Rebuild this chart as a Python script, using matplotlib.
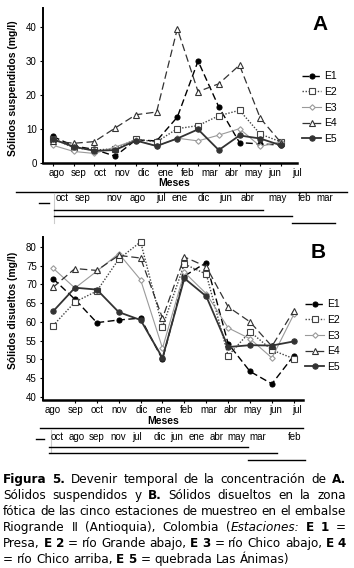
import re
import matplotlib
matplotlib.use("Agg")
import matplotlib.pyplot as plt

plt.rcParams["font.family"] = "Liberation Sans"

meses = ["ago", "sep", "oct", "nov", "dic", "ene", "feb", "mar", "abr", "may", "jun", "jul"]
estaciones = ["E1", "E2", "E3", "E4", "E5"]

# A. solidos suspendidos (mg/l)
ss_e1 = [7.8, 5.0, 4.0, 2.0, 6.8, 6.5, 13.5, 30.0, 16.5, 6.0, 5.6, 5.3]
ss_e2 = [7.2, 4.5, 3.8, 4.2, 7.0, 6.2, 10.1, 11.0, 13.9, 15.5, 8.5, 6.2]
ss_e3 = [5.2, 3.4, 2.8, 4.7, 6.8, 4.9, 7.3, 6.5, 8.2, 10.1, 4.9, 6.2]
ss_e4 = [6.5, 5.8, 6.3, 10.3, 14.2, 15.0, 39.5, 21.0, 23.3, 28.8, 13.2, 6.0]
ss_e5 = [7.0, 4.8, 3.6, 3.8, 6.6, 5.0, 7.2, 9.9, 3.8, 8.1, 7.2, 5.2]

# B. solidos disueltos (mg/l)
sd_e1 = [71.5, 66.0, 59.8, 60.5, 61.0, 50.0, 72.2, 75.8, 54.2, 46.8, 43.5, 51.0]
sd_e2 = [59.0, 65.3, 68.2, 76.7, 81.3, 58.7, 75.4, 72.7, 51.0, 57.4, 52.5, 50.2]
sd_e3 = [74.3, 69.0, 73.5, 78.2, 71.2, 53.0, 73.2, 67.5, 58.4, 55.5, 50.4, 62.0]
sd_e4 = [69.2, 74.2, 73.7, 77.7, 77.0, 61.0, 77.3, 74.7, 64.0, 60.0, 53.5, 63.0]
sd_e5 = [62.8, 69.1, 68.6, 62.6, 60.5, 50.4, 71.6, 66.8, 53.3, 53.8, 53.7, 54.8]

# agrupaciones (orden de meses y grupos homogeneos)
orden_a = ["oct", "sep", "nov", "ago", "jul", "ene", "dic", "jun", "abr", "may", "feb", "mar"]
grupos_a = [(0, 8), (0, 9), (10, 11)]
orden_b = ["oct", "ago", "sep", "nov", "jul", "dic", "jun", "ene", "abr", "may", "mar", "feb"]
grupos_b = [(0, 9), (0, 10), (10, 11)]

caption = [
    "**Figura** **5.** Devenir temporal de la concentración de **A.**",
    "Sólidos suspendidos y **B.** Sólidos disueltos en la zona",
    "fótica de las cinco estaciones de muestreo en el embalse",
    "Riogrande II (Antioquia), Colombia (*Estaciones:* **E** **1** =",
    "Presa, **E** **2** = río Grande abajo, **E** **3** = río Chico abajo, **E** **4**",
    "= río Chico arriba, **E** **5** = quebrada Las Ánimas)",
]

estilos = {
    "E1": dict(color="black", ls=(0, (5, 2.5)), lw=1.0, marker="o", mfc="black", ms=3.6),
    "E2": dict(color="#444444", ls=(0, (1, 1.2)), lw=1.0, marker="s", mfc="white", ms=4.0),
    "E3": dict(color="#9a9a9a", ls="-", lw=0.8, marker="D", mfc="white", ms=2.8),
    "E4": dict(color="#333333", ls=(0, (6, 3)), lw=0.9, marker="^", mfc="white", ms=4.2),
    "E5": dict(color="#333333", ls="-", lw=1.3, marker="o", mfc="#333333", ms=3.8),
}

W, H = 354, 568
fig = plt.figure(figsize=(W / 100, H / 100), dpi=100)
FS = 7


def fx(px):
    return px / W


def fy(py):
    return 1 - py / H


def panel(rect_px, series, yticks, ylim, ylabel, lab_pos, xlim, lab_y, letter, leg_px):
    l, t, r, b = rect_px
    ax = fig.add_axes([fx(l), fy(b), fx(r) - fx(l), fy(t) - fy(b)])
    x = list(range(len(meses)))
    for name, vals in zip(estaciones, series):
        st = estilos[name]
        ax.plot(x, vals, color=st["color"], linestyle=st["ls"], lw=st["lw"],
                marker=st["marker"], markerfacecolor=st["mfc"], markeredgecolor=st["color"],
                markeredgewidth=0.8, markersize=st["ms"], label=name)
    ax.set_xlim(*xlim)
    ax.set_ylim(*ylim)
    ax.set_yticks(yticks)
    ax.set_xticks(lab_pos, meses)
    ax.set_xticks(x, minor=True)
    ax.tick_params(axis="x", which="major", length=0, pad=3.5, labelsize=FS)
    ax.tick_params(axis="x", which="minor", length=2.5, width=0.8)
    ax.tick_params(axis="y", length=2.5, width=0.8, pad=2, labelsize=FS)
    for s in ["top", "right"]:
        ax.spines[s].set_visible(False)
    ax.spines["left"].set_linewidth(1.4)
    ax.spines["bottom"].set_linewidth(1.8)
    ax.set_ylabel(ylabel, fontsize=7.5, fontweight="bold")
    ax.yaxis.set_label_coords(lab_y[0], lab_y[1])
    fig.text(fx(letter[0]), fy(letter[1]), letter[2], fontsize=15, fontweight="bold",
             ha="center", va="center")
    ax.legend(loc="upper left", bbox_to_anchor=(fx(leg_px[0]), fy(leg_px[1])),
              bbox_transform=fig.transFigure, frameon=False, fontsize=7.5,
              handlelength=1.8, handletextpad=0.3, labelspacing=0.55, borderpad=0)
    return ax


lab_a = [0.19 + 1.053 * i for i in range(12)]
panel((43, 8, 297, 163), [ss_e1, ss_e2, ss_e3, ss_e4, ss_e5], [0, 10, 20, 30, 40],
      (0, 45.6), "Sólidos suspendidos (mg/l)", lab_a, (-0.48, 11.73),
      (-0.10, 0.48), (320, 24, "A"), (297, 66))

lab_b = [0.0 + 1.015 * i for i in range(12)]
panel((43, 237, 303, 400), [sd_e1, sd_e2, sd_e3, sd_e4, sd_e5], list(range(40, 81, 5)),
      (39.2, 82.6), "Sólidos disueltos (mg/l)", lab_b, (-0.46, 11.42),
      (-0.095, 0.55), (318, 253, "B"), (300, 294))

# capa en coordenadas de pixel para las agrupaciones y el pie
ov = fig.add_axes([0, 0, 1, 1], zorder=5)
ov.set_xlim(0, W)
ov.set_ylim(H, 0)
ov.axis("off")
ov.patch.set_alpha(0)


def grupos(orden, pos, spans, y_meses, y_top, top_x, y_lab, dash, vline, y_lines):
    ov.text(y_meses[0], y_meses[1], "Meses", fontsize=7.5, fontweight="bold", ha="center", va="center")
    ov.plot(top_x, [y_top, y_top], color="black", lw=1.0)
    for m, p in zip(orden, pos):
        ov.text(p, y_lab, m, fontsize=FS, ha="center", va="center")
    ov.plot(dash[:2], [dash[2], dash[2]], color="black", lw=1.0)
    ov.plot([vline[0], vline[0]], vline[1:], color="#cccccc", lw=0.8)
    for (i0, i1), yl in zip(spans, y_lines):
        x0 = pos[i0] - 8 if i0 == 0 else (pos[i0] + pos[i0 - 1]) / 2
        x1 = pos[i1] + 10 if i1 == len(pos) - 1 else (pos[i1] + pos[i1 + 1]) / 2
        ov.plot([x0, x1], [yl, yl], color="black", lw=1.0)


pos_a = [62, 83, 114, 138, 161, 180, 204, 226, 248, 278, 305, 325]
grupos(orden_a, pos_a, grupos_a, (174, 183), 192, [16, 347], 198, (39, 49, 203),
       (54, 193, 223), [210, 216, 223])
pos_b = [57, 77, 97, 118, 137, 160, 177, 197, 217, 237, 258, 295]
grupos(orden_b, pos_b, grupos_b, (163, 421), 428, [40, 303], 437, (36, 44, 439),
       (51, 430, 453), [447, 453, 460])

# pie de figura justificado
renderer = fig.canvas.get_renderer()
cap_font = "DejaVu Sans"


def parse(line):
    words = []
    for w in line.split(" "):
        segs = []
        for part in re.split(r"(\*\*[^*]+\*\*|\*[^*]+\*)", w):
            if not part:
                continue
            if part.startswith("**"):
                segs.append((part[2:-2], "bold"))
            elif part.startswith("*"):
                segs.append((part[1:-1], "italic"))
            else:
                segs.append((part, "normal"))
        words.append(segs)
    return words


def make(txt, style, size, x=0, y=0):
    return ov.text(x, y, txt, fontsize=size, family=cap_font, va="baseline", ha="left",
                   fontweight="bold" if style == "bold" else "normal",
                   fontstyle="italic" if style == "italic" else "normal")


def width(txt, style, size):
    t = make(txt, style, size)
    w = t.get_window_extent(renderer).width
    t.remove()
    return w


parsed = [parse(l) for l in caption]
x_left, x_right = 3, 346
sp10 = width("a a", "normal", 10) - width("aa", "normal", 10)
nat = []
for words in parsed[:-1]:
    ww = sum(width(s, st, 10) for seg in words for s, st in seg)
    nat.append(ww + sp10 * (len(words) - 1))
size = 10 * (x_right - x_left) / max(nat)
sp = sp10 * size / 10

baselines = [483, 499, 515, 531, 547, 563]
for k, (words, yb) in enumerate(zip(parsed, baselines)):
    wws = [[width(s, st, size) for s, st in seg] for seg in words]
    tot = sum(sum(w) for w in wws)
    last = k == len(parsed) - 1
    gap = sp if last else (x_right - x_left - tot) / (len(words) - 1)
    x = x_left
    for seg, wl in zip(words, wws):
        for (s, st), w in zip(seg, wl):
            make(s, st, size, x, yb)
            x += w
        x += gap

fig.savefig("out.png", dpi=100)
